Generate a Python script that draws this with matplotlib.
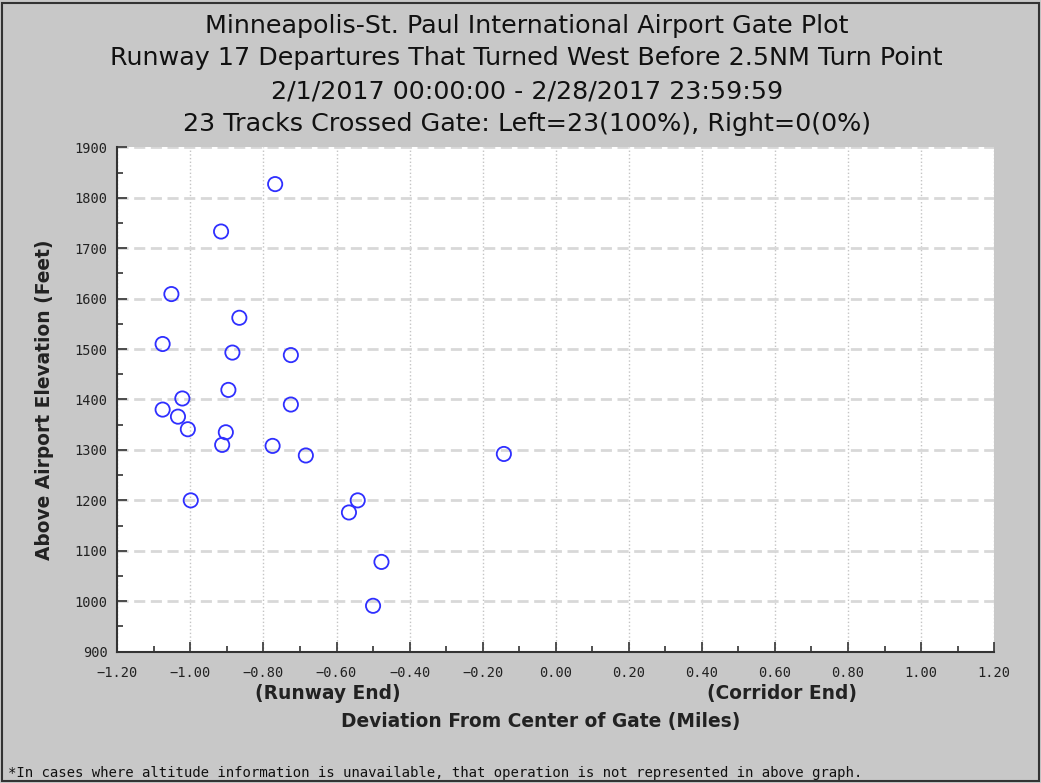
import matplotlib
matplotlib.use("Agg")
import matplotlib.pyplot as plt
from matplotlib.patches import Rectangle
from matplotlib.ticker import MultipleLocator, FuncFormatter

# deviation from centre of gate (miles) and altitude above airport (feet)
deviation = [-0.768, -0.916, -1.052, -0.866, -1.076, -0.885, -0.725, -0.896,
             -1.022, -0.725, -1.076, -1.034, -1.007, -0.903, -0.913, -0.775,
             -0.684, -0.999, -0.142, -0.542, -0.566, -0.477, -0.500]
altitude = [1827, 1733, 1609, 1562, 1510, 1493, 1488, 1419,
            1402, 1390, 1380, 1366, 1341, 1335, 1310, 1308,
            1289, 1200, 1292, 1200, 1176, 1078, 991]

title_lines = [
    "Minneapolis-St. Paul International Airport Gate Plot",
    "Runway 17 Departures That Turned West Before 2.5NM Turn Point",
    "2/1/2017 00:00:00 - 2/28/2017 23:59:59",
    "23 Tracks Crossed Gate: Left=23(100%), Right=0(0%)",
]
footer = ("*In cases where altitude information is unavailable, "
          "that operation is not represented in above graph.")

bg = "#c8c8c8"
fig = plt.figure(figsize=(10.41, 7.83), dpi=100, facecolor=bg)
ax = fig.add_axes([0.1127, 0.1677, 0.8423, 0.6442])
ax.set_facecolor("white")

ax.scatter(deviation, altitude, s=105, facecolors="none",
           edgecolors="#2f2fff", linewidths=1.3, zorder=3)

ax.set_xlim(-1.2, 1.2)
ax.set_ylim(900, 1900)
ax.xaxis.set_major_locator(MultipleLocator(0.2))
ax.xaxis.set_minor_locator(MultipleLocator(0.1))
ax.yaxis.set_major_locator(MultipleLocator(100))
ax.yaxis.set_minor_locator(MultipleLocator(50))
ax.xaxis.set_major_formatter(FuncFormatter(lambda v, p: f"{v:.2f}".replace("-", "\u2212")))

ax.tick_params(which="both", direction="in", colors="#333333", width=1.2)
ax.tick_params(which="major", length=7, labelsize=9.8)
ax.tick_params(axis="x", which="major", pad=10)
ax.tick_params(axis="y", which="major", pad=7)
ax.tick_params(which="minor", length=4)
for lab in ax.get_xticklabels() + ax.get_yticklabels():
    lab.set_fontfamily("DejaVu Sans Mono")
    lab.set_color("#222222")

for side in ["top", "right"]:
    ax.spines[side].set_visible(False)
for side in ["left", "bottom"]:
    ax.spines[side].set_color("#333333")
    ax.spines[side].set_linewidth(1.5)

ax.grid(axis="y", color="#d8d8d8", linestyle=(0, (4, 2)), linewidth=2)
ax.grid(axis="x", color="#c4c4c4", linestyle=":", linewidth=1)
ax.set_axisbelow(True)

ax.set_ylabel("Above Airport Elevation (Feet)", fontsize=13.4, fontweight="bold",
              color="#222222")
ax.yaxis.set_label_coords(-0.072, 0.5)
ax.set_xlabel("Deviation From Center of Gate (Miles)", fontsize=13.4,
              fontweight="bold", color="#222222")
ax.xaxis.set_label_coords(0.483, -0.12)

ax.text(-0.625, -0.083, "(Runway End)", transform=ax.get_xaxis_transform(),
        ha="center", va="center", fontsize=13.4, fontweight="bold", color="#222222")
ax.text(0.62, -0.083, "(Corridor End)", transform=ax.get_xaxis_transform(),
        ha="center", va="center", fontsize=13.4, fontweight="bold", color="#222222")

for i, line in enumerate(title_lines):
    fig.text(0.506, 1 - (25.5 + 33 * i) / 783, line, ha="center", va="center",
             fontsize=18.3, color="#111111")

fig.text(8 / 1041, 1 - 773 / 783, footer, ha="left", va="center",
         fontsize=10.1, family="DejaVu Sans Mono", color="#111111")

fig.patches.append(Rectangle((0.002, 0.002), 0.996, 0.994, transform=fig.transFigure,
                             fill=False, edgecolor="#333333", linewidth=1.5))

fig.savefig("out.png", dpi=100, facecolor=bg)
